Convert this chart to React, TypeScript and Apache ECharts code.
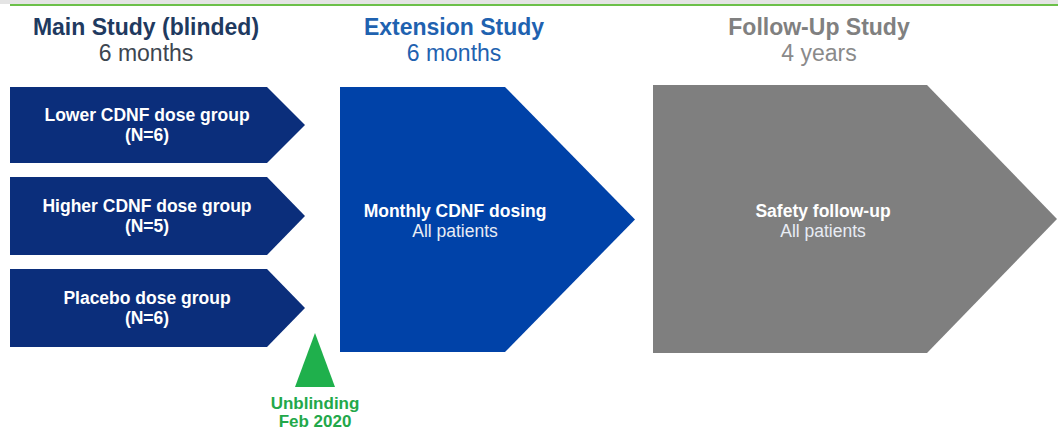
import React, { useEffect, useRef } from "react";
import * as echarts from "echarts";

// ---- content ----
const phaseTitles = ["Main Study (blinded)", "Extension Study", "Follow-Up Study"];
const phaseDurations = ["6 months", "6 months", "4 years"];
const groupNames = ["Lower CDNF dose group", "Higher CDNF dose group", "Placebo dose group"];
const groupSizes = [6, 5, 6];
const arrowTitles = ["Monthly CDNF dosing", "Safety follow-up"];
const arrowSubtitles = ["All patients", "All patients"];
const milestoneLines = ["Unblinding", "Feb 2020"];

// ---- layout & style ----
const FONT = "'Liberation Sans', Arial, Helvetica, sans-serif";
const phaseCenters = [146, 454, 819];
const titleColors = ["#1f3a60", "#1f62b0", "#808080"];
const durationColors = ["#3d4650", "#1f62b0", "#8a8a8a"];
const groupBoxes = [
  { top: 87, bottom: 163 },
  { top: 177, bottom: 255 },
  { top: 269, bottom: 347 },
];
const groupLeft = 10;
const groupBodyEnd = 267;
const groupTip = 305;
const groupColor = "#0b2e7b";
const arrows = [
  { left: 340, bodyEnd: 505, tip: 635, top: 87, bottom: 352, color: "#0042a8", cx: 455 },
  { left: 653, bodyEnd: 927, tip: 1057, top: 85, bottom: 353, color: "#7f7f7f", cx: 823 },
];
const SMALL = 17.5;

export default function App() {
  const ref = useRef<HTMLDivElement>(null);
  useEffect(() => {
    if (!ref.current) return;
    const chart = echarts.init(ref.current, null, { renderer: "svg" });
    const els: any[] = [];

    // top band + green rule
    els.push({ type: "rect", shape: { x: 0, y: 0, width: 1058, height: 4 }, style: { fill: "#e4e4e4" } });
    els.push({ type: "rect", shape: { x: 10, y: 4, width: 1048, height: 2 }, style: { fill: "#6cc04a" } });

    // headers
    phaseTitles.forEach((t, i) => {
      els.push({
        type: "text",
        x: phaseCenters[i],
        y: 27,
        style: { text: t, fill: titleColors[i], font: `bold 23px ${FONT}`, align: "center", verticalAlign: "middle" },
      });
      els.push({
        type: "text",
        x: phaseCenters[i],
        y: 53,
        style: { text: phaseDurations[i], fill: durationColors[i], font: `23px ${FONT}`, align: "center", verticalAlign: "middle" },
      });
    });

    // group chevrons
    groupBoxes.forEach((b, i) => {
      const mid = (b.top + b.bottom) / 2;
      els.push({
        type: "polygon",
        shape: {
          points: [
            [groupLeft, b.top],
            [groupBodyEnd, b.top],
            [groupTip, mid],
            [groupBodyEnd, b.bottom],
            [groupLeft, b.bottom],
          ],
        },
        style: { fill: groupColor },
      });
      els.push({
        type: "text",
        x: 147,
        y: mid - 10,
        style: { text: groupNames[i], fill: "#ffffff", font: `bold ${SMALL}px ${FONT}`, align: "center", verticalAlign: "middle" },
      });
      els.push({
        type: "text",
        x: 147,
        y: mid + 10,
        style: { text: `(N=${groupSizes[i]})`, fill: "#ffffff", font: `bold ${SMALL}px ${FONT}`, align: "center", verticalAlign: "middle" },
      });
    });

    // big arrows
    arrows.forEach((a, i) => {
      const mid = (a.top + a.bottom) / 2;
      els.push({
        type: "polygon",
        shape: {
          points: [
            [a.left, a.top],
            [a.bodyEnd, a.top],
            [a.tip, mid],
            [a.bodyEnd, a.bottom],
            [a.left, a.bottom],
          ],
        },
        style: { fill: a.color },
      });
      els.push({
        type: "text",
        x: a.cx,
        y: 211,
        style: { text: arrowTitles[i], fill: "#ffffff", font: `bold ${SMALL}px ${FONT}`, align: "center", verticalAlign: "middle" },
      });
      els.push({
        type: "text",
        x: a.cx,
        y: 231,
        style: { text: arrowSubtitles[i], fill: "#e8ecf4", font: `${SMALL}px ${FONT}`, align: "center", verticalAlign: "middle" },
      });
    });

    // milestone
    els.push({
      type: "polygon",
      shape: { points: [[295, 387], [335, 387], [315, 333]] },
      style: { fill: "#1fb04c" },
    });
    milestoneLines.forEach((t, i) => {
      els.push({
        type: "text",
        x: 315,
        y: 403 + i * 18,
        style: { text: t, fill: "#22a84a", font: `bold 17px ${FONT}`, align: "center", verticalAlign: "middle" },
      });
    });

    chart.setOption({
      animation: false,
      backgroundColor: "#ffffff",
      graphic: { elements: els },
    });
    return () => chart.dispose();
  }, []);
  return <div ref={ref} style={{ position: "absolute", left: 0, top: 0, width: 1058, height: 432 }} />;
}
